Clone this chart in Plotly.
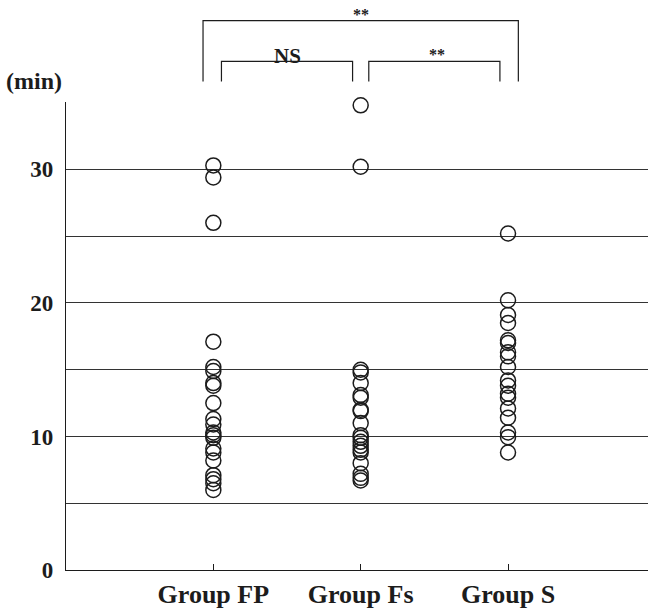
import plotly.graph_objects as go

# Time (min) per subject in each group
groups = ["Group FP", "Group Fs", "Group S"]
group_pos = [1, 2, 3]
fp_values = [30.3, 29.4, 26.0, 17.1, 15.2, 14.9, 14.0, 13.8, 12.5, 11.3, 10.9,
             10.3, 10.1, 9.9, 9.1, 8.8, 8.2, 7.1, 6.8, 6.5, 6.0]
fs_values = [34.8, 30.2, 15.0, 14.8, 14.0, 13.1, 12.9, 12.0, 11.9, 11.0, 10.1,
             9.9, 9.6, 9.3, 9.0, 8.8, 8.0, 7.2, 6.9, 6.7]
s_values = [25.2, 20.2, 19.1, 18.5, 17.2, 17.0, 16.3, 16.0, 15.2, 14.2, 13.8,
            13.2, 12.9, 12.1, 11.4, 10.3, 9.95, 8.8]
y_ticks = [0, 5, 10, 15, 20, 25, 30, 35]
y_ticktext = ["0", "", "10", "", "20", "", "30", ""]

# Significance comparisons: (left group, right group, label, level)
comparisons = [(1, 2, "NS", "low"), (2, 3, "**", "low"), (1, 3, "**", "high")]

series = [fp_values, fs_values, s_values]
ink = "#1c1c1c"
font_family = "Liberation Serif, Times New Roman, serif"

fig = go.Figure()
for pos, vals in zip(group_pos, series):
    fig.add_trace(go.Scatter(
        x=[pos] * len(vals), y=vals, mode="markers",
        marker=dict(symbol="circle-open", size=15, color=ink,
                    line=dict(width=1.5, color=ink)),
        showlegend=False, cliponaxis=False,
    ))

# Bracket geometry in paper units above the plot area
y_bottom = 1.044
level_top = {"low": 1.087, "high": 1.174}
label_y = {("NS", "low"): 1.099, ("**", "low"): 1.101, ("**", "high"): 1.188}
inset = {"low": 0.055, "high": -0.07}
for a, b, label, level in comparisons:
    top = level_top[level]
    x0, x1 = a + inset[level], b - inset[level]
    fig.add_shape(type="path", xref="x", yref="paper",
                  path=f"M {x0},{y_bottom} L {x0},{top} L {x1},{top} L {x1},{y_bottom}",
                  line=dict(color=ink, width=1.2))
    is_star = label == "**"
    fig.add_annotation(x=(a + b) / 2 + (0.02 if is_star and level == "low" else 0),
                       y=label_y[(label, level)],
                       xref="x", yref="paper",
                       text=f"<b>{label}</b>", showarrow=False,
                       xanchor="center", yanchor="middle",
                       font=dict(family=font_family, size=16 if is_star else 21, color=ink))

fig.add_annotation(x=-0.055, y=1.044, xref="paper", yref="paper",
                   xanchor="center", yanchor="middle",
                   text="<b>(min)</b>", showarrow=False,
                   font=dict(family=font_family, size=24, color=ink))

fig.update_layout(
    width=648, height=615,
    margin=dict(l=66, r=0, t=102, b=45),
    plot_bgcolor="white", paper_bgcolor="white",
    font=dict(family=font_family, color=ink),
    xaxis=dict(range=[0, 3.95], tickvals=group_pos,
               ticktext=[f"<b>{g}</b>" for g in groups],
               ticks="inside", ticklen=6, tickcolor=ink, tickwidth=1,
               showline=True, linecolor=ink, linewidth=1.2,
               showgrid=False, zeroline=False,
               tickfont=dict(size=26, family=font_family, color=ink),
               ticklabelstandoff=1),
    yaxis=dict(range=[0, 35.05], tickvals=y_ticks,
               ticktext=[f"<b>{t}</b>" if t else "" for t in y_ticktext],
               ticks="", showline=True, linecolor=ink, linewidth=1.2,
               showgrid=True, gridcolor="#333333", gridwidth=1.1,
               zeroline=False,
               tickfont=dict(size=23, family=font_family, color=ink),
               ticklabelstandoff=7),
)

fig.write_html("out.html")
